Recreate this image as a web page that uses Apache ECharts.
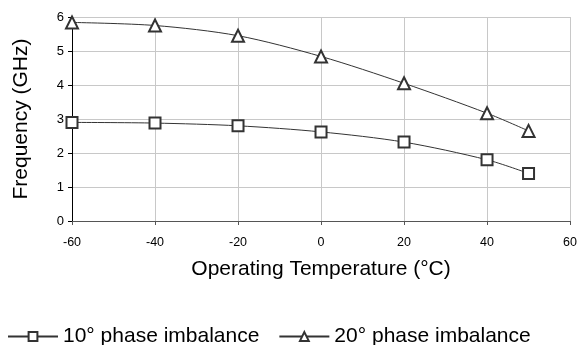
<!DOCTYPE html>
<html>
<head>
<meta charset="utf-8">
<script src="https://cdn.jsdelivr.net/npm/echarts@6/dist/echarts.min.js"></script>
<style>
  html, body { margin: 0; padding: 0; background: #fff; }
  #chart { width: 580px; height: 345px; }
</style>
</head>
<body>
<div id="chart"></div>
<script>
var temps = [-60, -40, -20, 0, 20, 40, 50];
var phase10 = [2.90, 2.88, 2.80, 2.62, 2.32, 1.80, 1.40];
var phase20 = [5.84, 5.75, 5.45, 4.84, 4.05, 3.17, 2.65];
var seriesNames = ['10° phase imbalance', '20° phase imbalance'];

var myChart = echarts.init(document.getElementById('chart'));

function pairs(ys) {
    return temps.map(function (t, i) { return [t, ys[i]]; });
}

function lineSeries(name, ys, symbol, size) {
    return {
        name: name,
        type: 'line',
        smooth: 0.3,
        data: pairs(ys),
        symbol: symbol,
        symbolSize: size,
        showAllSymbol: true,
        lineStyle: { color: '#333', width: 1 },
        itemStyle: { color: '#fff', borderColor: '#333', borderWidth: 2 },
        emphasis: { disabled: true }
    };
}

var option = {
    animation: false,
    textStyle: { fontFamily: 'Liberation Sans, Arial, sans-serif' },
    grid: { left: 72, right: 7, top: 17, bottom: 124 },
    legend: {
        left: 2,
        top: 321,
        itemWidth: 50,
        itemHeight: 11,
        itemGap: 19,
        textStyle: { fontSize: 21, color: '#000' },
        data: seriesNames
    },
    xAxis: {
        type: 'value',
        min: -60,
        max: 60,
        interval: 20,
        name: 'Operating Temperature (°C)',
        nameLocation: 'middle',
        nameGap: 38,
        nameTextStyle: { fontSize: 21, color: '#000' },
        axisLine: { lineStyle: { color: '#555' } },
        axisTick: { show: true, length: 4, lineStyle: { color: '#555' } },
        axisLabel: { fontSize: 12.5, color: '#000', margin: 15 },
        splitLine: { show: true, lineStyle: { color: '#c8c8c8' } }
    },
    yAxis: {
        type: 'value',
        min: 0,
        max: 6,
        interval: 1,
        name: 'Frequency (GHz)',
        nameLocation: 'middle',
        nameGap: 40,
        nameTextStyle: { fontSize: 21, color: '#000' },
        axisLine: { show: true, onZero: false, lineStyle: { color: '#000' } },
        axisTick: { show: true, length: 4, lineStyle: { color: '#000' } },
        axisLabel: { fontSize: 13, color: '#000', margin: 8 },
        splitLine: { show: true, lineStyle: { color: '#c8c8c8' } }
    },
    series: [
        lineSeries(seriesNames[0], phase10, 'rect', 11),
        lineSeries(seriesNames[1], phase20, 'triangle', 12)
    ]
};

myChart.setOption(option);
</script>
</body>
</html>
